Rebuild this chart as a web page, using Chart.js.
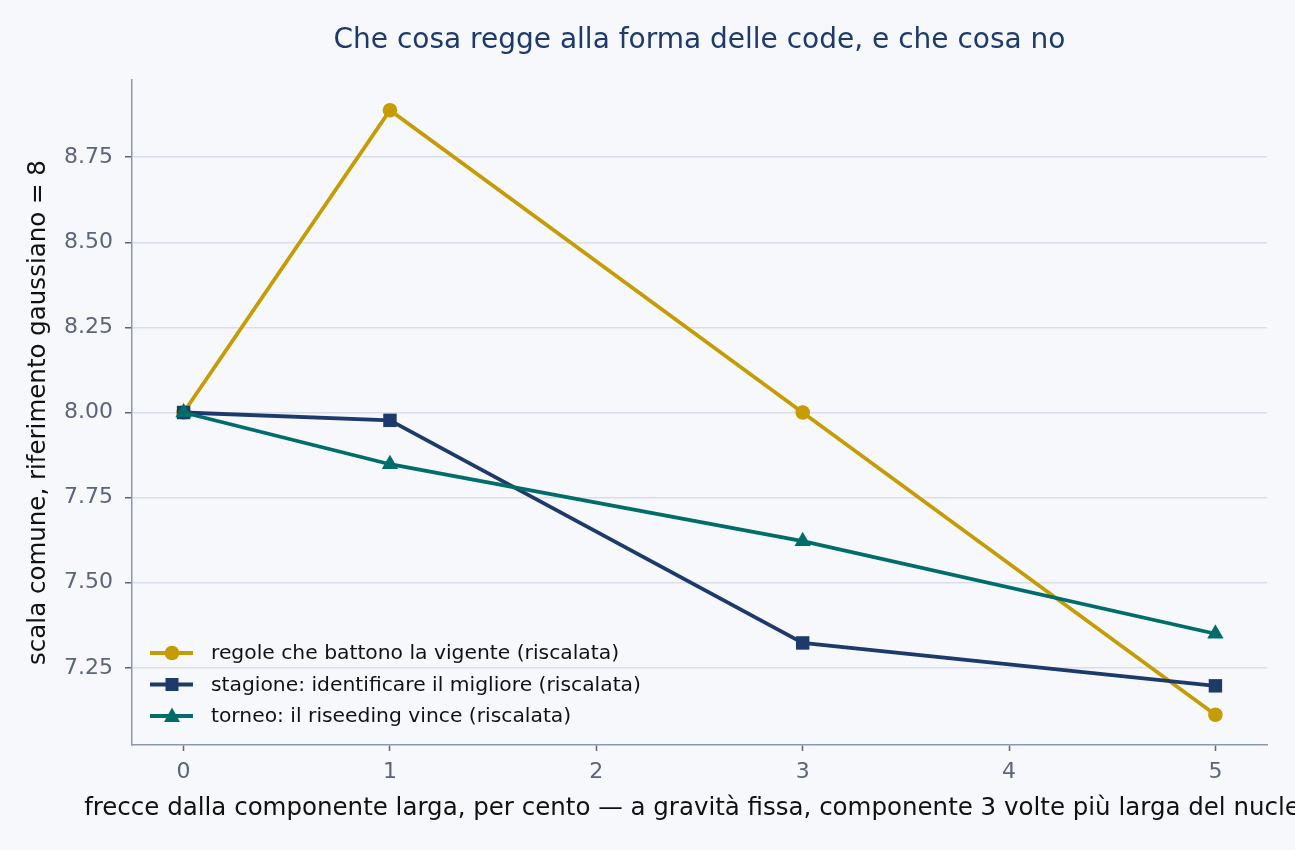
<!DOCTYPE html>
<html>
<head>
<meta charset="utf-8">
<script src="https://cdn.jsdelivr.net/npm/chart.js@4"></script>
<style>
  html, body { margin: 0; padding: 0; background: #f7f8fc; }
  #wrap { width: 1295px; height: 850px; }
</style>
</head>
<body>
<div id="wrap"><canvas id="tailChart" width="1295" height="850"></canvas></div>
<script>
// dati
const percentuali = [0, 1, 3, 5];
const regoleVigente = [8.0, 8.888, 8.0, 7.112];
const stagioneMigliore = [8.0, 7.977, 7.323, 7.197];
const torneoRiseeding = [8.0, 7.848, 7.622, 7.35];
const yTicks = [7.25, 7.5, 7.75, 8.0, 8.25, 8.5, 8.75];
const xTicks = [0, 1, 2, 3, 4, 5];

const titolo = "Che cosa regge alla forma delle code, e che cosa no";
const titoloX = "frecce dalla componente larga, per cento — a gravità fissa, componente 3 volte più larga del nucleo";
const titoloY = "scala comune, riferimento gaussiano = 8";

const FONT = "'DejaVu Sans', sans-serif";
const TICK_COLOR = "#5b6478";

function toPoints(vals) {
  return percentuali.map((x, i) => ({ x, y: vals[i] }));
}

const tutti = regoleVigente.concat(stagioneMigliore, torneoRiseeding);
const lo = Math.min(...tutti), hi = Math.max(...tutti);
const pad = (hi - lo) * 0.05;

// -------------------------------------------------------------
// testi e legenda disegnati a mano
// -------------------------------------------------------------
const decorazioni = {
  id: "decorazioni",
  afterDraw(chart) {
    const { ctx, chartArea: a } = chart;
    ctx.save();
    ctx.fillStyle = "#1d3a6b";
    ctx.font = "28px " + FONT;
    ctx.textAlign = "center";
    ctx.textBaseline = "middle";
    ctx.fillText(titolo, (a.left + a.right) / 2, 41);

    ctx.fillStyle = "#111";
    ctx.font = "24.5px " + FONT;
    ctx.fillText(titoloX, (a.left + a.right) / 2, 809);

    ctx.translate(39, (a.top + a.bottom) / 2);
    ctx.rotate(-Math.PI / 2);
    ctx.fillText(titoloY, 0, 0);
    ctx.restore();

    // legenda in basso a sinistra
    ctx.save();
    ctx.font = "20.3px " + FONT;
    ctx.textBaseline = "middle";
    ctx.textAlign = "left";
    chart.data.datasets.forEach((ds, i) => {
      const y = a.bottom - 92 + i * 31.5;
      const x0 = a.left + 18;
      ctx.strokeStyle = ds.borderColor;
      ctx.lineWidth = 3.8;
      ctx.beginPath();
      ctx.moveTo(x0, y);
      ctx.lineTo(x0 + 43, y);
      ctx.stroke();
      ctx.fillStyle = ds.borderColor;
      const cx = x0 + 22;
      if (ds.pointStyle === "circle") {
        ctx.beginPath(); ctx.arc(cx, y, 7.3, 0, Math.PI * 2); ctx.fill();
      } else if (ds.pointStyle === "rect") {
        ctx.fillRect(cx - 6.5, y - 6.5, 13, 13);
      } else {
        ctx.beginPath();
        ctx.moveTo(cx, y - 8.5); ctx.lineTo(cx + 8, y + 6); ctx.lineTo(cx - 8, y + 6);
        ctx.closePath(); ctx.fill();
      }
      ctx.fillStyle = "#111";
      ctx.fillText(ds.label, x0 + 61, y + 1);
    });
    ctx.restore();
  },
};

const sfondo = {
  id: "sfondo",
  beforeDraw(chart) {
    const { ctx } = chart;
    ctx.save();
    ctx.fillStyle = "#f7f8fc";
    ctx.fillRect(0, 0, chart.width, chart.height);
    ctx.restore();
  },
};

function serie(label, vals, color, style, radius, order) {
  return {
    label,
    data: toPoints(vals),
    borderColor: color,
    backgroundColor: color,
    borderWidth: 3.8,
    pointStyle: style,
    pointRadius: radius,
    pointHoverRadius: radius,
    pointBorderWidth: 0,
    tension: 0,
    order,
  };
}

const ctx = document.getElementById("tailChart");
new Chart(ctx, {
  type: "line",
  data: {
    datasets: [
      serie("regole che battono la vigente (riscalata)", regoleVigente, "#c69c04", "circle", 7.3, 2),
      serie("stagione: identificare il migliore (riscalata)", stagioneMigliore, "#1d3a6b", "rect", 9.5, 1),
      serie("torneo: il riseeding vince (riscalata)", torneoRiseeding, "#006d6a", "triangle", 9.5, 0),
    ],
  },
  options: {
    responsive: false,
    animation: false,
    layout: { padding: { top: 80, right: 28, left: 0, bottom: 0 } },
    plugins: { legend: { display: false }, title: { display: false }, tooltip: { enabled: false } },
    scales: {
      x: {
        type: "linear",
        min: -0.25,
        max: 5.25,
        afterBuildTicks: (s) => { s.ticks = xTicks.map((v) => ({ value: v })); },
        afterFit: (s) => { s.height = 105; },
        ticks: { color: TICK_COLOR, font: { family: FONT, size: 22 }, padding: 8 },
        grid: { drawOnChartArea: false, tickColor: TICK_COLOR, tickLength: 6, tickWidth: 1.5 },
        border: { color: "#8d97ab", width: 1.5 },
      },
      y: {
        min: lo - pad,
        max: hi + pad,
        afterBuildTicks: (s) => { s.ticks = yTicks.map((v) => ({ value: v })); },
        afterFit: (s) => { s.width = 132; },
        ticks: {
          color: TICK_COLOR,
          font: { family: FONT, size: 22 },
          padding: 12,
          callback: (v) => Number(v).toFixed(2),
        },
        grid: { color: "#d9deea", lineWidth: 1.5, tickColor: TICK_COLOR, tickLength: 7, tickWidth: 1.5 },
        border: { color: "#8d97ab", width: 1.5 },
      },
    },
  },
  plugins: [sfondo, decorazioni],
});
</script>
</body>
</html>
